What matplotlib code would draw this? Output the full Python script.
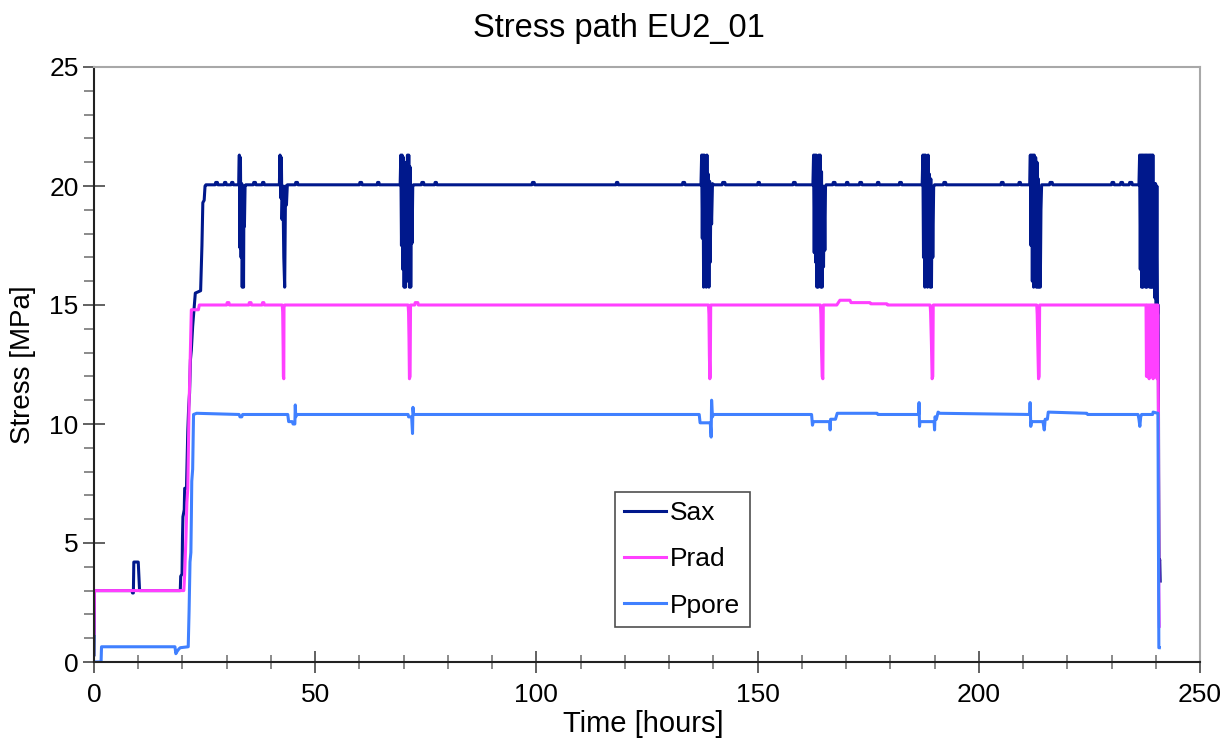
import matplotlib
matplotlib.use("Agg")
import matplotlib.pyplot as plt
from matplotlib.ticker import MultipleLocator

plt.rcParams['font.family'] = ['Liberation Sans', 'DejaVu Sans']

# Sax - axial stress [MPa]
sax_t = [0, 0.1, 8.6, 8.7, 8.9, 9.0, 10.0, 10.3, 19.5, 19.6, 19.9, 20.0, 20.1, 20.4,
         20.5, 20.9, 21.1, 21.2, 21.4, 21.6, 21.8, 22.0, 22.3, 22.7, 22.9, 24.1, 24.4,
         24.6, 24.9, 25.1, 25.3,
         27.4, 27.5, 27.9, 28.0, 29.4, 29.5, 29.8, 29.9, 31.0, 31.1, 31.4, 31.5,
         32.7, 32.85, 33.0, 33.1, 33.25, 33.4, 33.5, 33.65, 33.8, 33.9, 34.0, 34.15, 34.3,
         36.0, 36.1, 36.5, 36.6, 38.0, 38.1, 38.4, 38.5,
         41.9, 42.05, 42.2, 42.35, 42.5, 42.7, 42.9, 43.1, 43.3, 43.5, 43.7,
         45.5, 45.6, 46.0, 46.1, 60.0, 60.1, 60.5, 60.6, 64.0, 64.1, 64.4, 64.5,
         69.2, 69.35, 69.5, 69.65, 69.8, 69.95, 70.1, 70.25, 70.4, 70.55, 70.7, 70.85,
         71.0, 71.15, 71.3, 71.45, 71.6, 71.75, 71.9, 72.05, 72.2,
         74.0, 74.1, 74.5, 74.6, 77.0, 77.1, 77.4, 77.5, 99.0, 99.1, 99.5, 99.6,
         118.0, 118.1, 118.4, 118.5, 133.0, 133.1, 133.5, 133.6,
         137.2, 137.35, 137.5, 137.65, 137.8, 137.95, 138.1, 138.25, 138.4, 138.55,
         138.7, 138.85, 139.0, 139.15, 139.3, 139.45, 139.6, 139.8, 139.95,
         142.0, 142.1, 142.6, 142.7, 150.0, 150.1, 150.4, 150.5, 158.0, 158.1, 158.5, 158.6,
         162.5, 162.65, 162.8, 162.95, 163.1, 163.25, 163.4, 163.55, 163.7, 163.85,
         164.0, 164.15, 164.3, 164.45, 164.6, 164.75, 164.9, 165.05, 165.2, 165.35, 165.5,
         167.0, 167.1, 167.5, 167.6, 170.0, 170.1, 170.4, 170.5, 173.0, 173.1, 173.5, 173.6,
         177.0, 177.1, 177.4, 177.5, 182.0, 182.1, 182.5, 182.6,
         187.2, 187.35, 187.5, 187.65, 187.8, 187.95, 188.1, 188.25, 188.4, 188.55,
         188.7, 188.85, 189.0, 189.15, 189.3, 189.45, 189.6, 189.8, 190.0,
         192.0, 192.1, 192.5, 192.6, 205.0, 205.1, 205.5, 205.6, 209.0, 209.1, 209.4, 209.5,
         211.5, 211.65, 211.8, 211.95, 212.1, 212.25, 212.4, 212.55, 212.7, 212.85,
         213.0, 213.15, 213.3, 213.45, 213.6, 213.75, 213.9, 214.05, 214.2,
         216.0, 216.1, 216.6, 216.7, 230.0, 230.1, 230.5, 230.6, 232.0, 232.1, 232.5, 232.6,
         234.0, 234.1, 234.6, 234.7,
         236.2, 236.35, 236.5, 236.65, 236.8, 236.95, 237.1, 237.25, 237.4, 237.55,
         237.7, 237.85, 238.0, 238.15, 238.3, 238.45, 238.6, 238.75, 238.9, 239.05,
         239.2, 239.35, 239.5, 239.65, 239.8, 239.95, 240.1, 240.25, 240.4, 240.55,
         240.65, 240.75, 240.9, 241.0]
sax_v = [0.3, 3.0, 3.0, 2.9, 2.9, 4.2, 4.2, 3.0, 3.0, 3.6, 3.7, 5.2, 6.1, 6.4,
         7.3, 7.3, 8.9, 9.7, 10.7, 11.3, 12.7, 13.1, 14.1, 15.0, 15.5, 15.6, 17.5,
         19.3, 19.4, 20.0, 20.05,
         20.05, 20.15, 20.15, 20.05, 20.05, 20.15, 20.15, 20.05, 20.05, 20.15, 20.15, 20.05,
         20.05, 21.3, 17.4, 21.2, 17.0, 20.1, 15.75, 19.8, 15.75, 20.0, 18.3, 20.0, 20.05,
         20.05, 20.15, 20.15, 20.05, 20.05, 20.15, 20.15, 20.05,
         20.05, 21.3, 19.5, 21.2, 18.6, 20.0, 17.0, 15.75, 20.0, 19.2, 20.05,
         20.05, 20.15, 20.15, 20.05, 20.05, 20.15, 20.15, 20.05, 20.05, 20.15, 20.15, 20.05,
         20.05, 21.3, 17.5, 21.3, 16.5, 21.2, 15.75, 21.0, 15.75, 20.5, 16.8, 21.3,
         16.0, 21.3, 15.75, 20.8, 15.75, 19.5, 17.6, 20.0, 20.05,
         20.05, 20.15, 20.15, 20.05, 20.05, 20.15, 20.15, 20.05, 20.05, 20.15, 20.15, 20.05,
         20.05, 20.15, 20.15, 20.05, 20.05, 20.15, 20.15, 20.05,
         20.05, 21.3, 17.8, 21.3, 15.75, 21.3, 16.2, 21.2, 15.75, 21.3,
         15.9, 20.5, 15.75, 20.2, 16.8, 20.0, 18.4, 20.1, 20.05,
         20.05, 20.15, 20.15, 20.05, 20.05, 20.15, 20.15, 20.05, 20.05, 20.15, 20.15, 20.05,
         20.05, 21.3, 17.2, 21.3, 16.8, 21.3, 15.75, 21.0, 15.75, 21.3,
         16.0, 21.3, 15.75, 20.6, 15.75, 20.0, 16.6, 19.8, 17.3, 20.0, 20.05,
         20.05, 20.15, 20.15, 20.05, 20.05, 20.15, 20.15, 20.05, 20.05, 20.15, 20.15, 20.05,
         20.05, 20.15, 20.15, 20.05, 20.05, 20.15, 20.15, 20.05,
         20.05, 21.3, 17.0, 21.3, 15.75, 21.3, 16.3, 21.2, 15.75, 21.3,
         16.1, 20.5, 15.75, 20.3, 15.75, 19.9, 17.0, 20.0, 20.05,
         20.05, 20.15, 20.15, 20.05, 20.05, 20.15, 20.15, 20.05, 20.05, 20.15, 20.15, 20.05,
         20.05, 21.3, 17.5, 21.3, 16.0, 21.3, 15.75, 21.3, 16.5, 21.2,
         15.75, 21.0, 15.75, 20.3, 15.75, 19.5, 15.75, 19.0, 20.05,
         20.05, 20.15, 20.15, 20.05, 20.05, 20.15, 20.15, 20.05, 20.05, 20.15, 20.15, 20.05,
         20.05, 20.15, 20.15, 20.05,
         20.05, 21.3, 16.5, 21.3, 15.75, 21.3, 15.75, 21.3, 17.0, 21.3,
         15.75, 21.3, 15.75, 21.3, 16.2, 21.3, 15.75, 21.3, 15.75, 21.3,
         15.75, 21.3, 15.75, 20.1, 15.3, 20.1, 15.0, 20.0, 14.6, 15.0,
         8.0, 4.2, 4.3, 3.4]

# Prad - radial pressure [MPa]
prad_t = [0, 0.1, 20.3, 20.5, 20.8, 21.0, 21.2, 21.5, 21.6, 22.0, 22.3, 23.6, 23.8,
          30.0, 30.1, 30.5, 30.6, 35.0, 35.1, 35.5, 35.6, 38.0, 38.1, 38.4, 38.5,
          42.55, 42.65, 42.75, 42.8, 42.9, 42.95, 43.1,
          71.0, 71.1, 71.2, 71.3, 71.45, 71.55,
          72.5, 72.6, 73.2, 73.3,
          138.9, 139.0, 139.1, 139.2, 139.3, 139.4,
          164.2, 164.3, 164.45, 164.6, 164.75, 164.85,
          167.9, 168.6, 170.9, 171.1, 175.4, 175.6, 179.2, 179.4,
          189.0, 189.1, 189.3, 189.45, 189.6, 189.7,
          213.1, 213.2, 213.35, 213.5, 213.65, 213.75,
          237.8, 237.9, 238.05, 238.2, 238.35, 238.5, 238.65, 238.8, 238.95, 239.1,
          239.25, 239.4, 239.55, 239.7, 239.85, 240.0, 240.15, 240.3, 240.45, 240.6,
          240.7, 240.8]
prad_v = [1.2, 3.0, 3.0, 3.7, 5.3, 6.7, 7.3, 10.9, 11.6, 14.8, 14.8, 14.8, 15.0,
          15.0, 15.1, 15.1, 15.0, 15.0, 15.1, 15.1, 15.0, 15.0, 15.1, 15.1, 15.0,
          15.0, 14.7, 13.2, 12.0, 11.9, 14.9, 15.0,
          15.0, 14.7, 13.6, 11.9, 12.0, 15.0,
          15.0, 15.1, 15.1, 15.0,
          15.0, 14.6, 12.9, 11.9, 12.0, 15.0,
          15.0, 14.6, 13.1, 12.0, 11.9, 15.0,
          15.0, 15.2, 15.2, 15.1, 15.1, 15.05, 15.05, 15.0,
          15.0, 14.7, 13.3, 11.9, 12.0, 15.0,
          15.0, 14.6, 13.2, 11.9, 12.0, 15.0,
          15.0, 12.0, 15.0, 12.0, 15.0, 11.9, 15.0, 12.0, 15.0, 12.0,
          15.0, 11.9, 15.0, 12.0, 15.0, 12.0, 15.0, 11.9, 15.0, 10.4,
          3.0, 1.5]

# Ppore - pore pressure [MPa]
ppore_t = [0, 1.6, 1.7, 18.3, 18.5, 18.8, 19.2, 19.5, 21.3, 21.5, 21.7, 21.9, 22.0,
           22.1, 22.3, 22.5, 23.2,
           32.8, 33.0, 33.4, 33.6,
           43.8, 44.0, 44.8, 45.0, 45.4, 45.5, 45.6, 45.8,
           71.0, 71.1, 71.8, 72.0, 72.1, 72.25,
           136.8, 137.0, 139.3, 139.5, 139.6, 139.8, 140.0,
           162.2, 162.4, 162.6, 166.3, 166.4, 166.5, 167.6, 168.0, 177.0, 177.2,
           186.4, 186.5, 186.6, 186.7, 189.9, 190.0, 190.1, 190.4, 190.8, 191.2,
           211.5, 211.6, 211.75, 211.9, 214.5, 214.8, 215.0, 215.5, 215.7, 224.4, 224.6,
           236.0, 236.2, 236.4, 236.6, 236.8, 239.3, 239.4, 240.5, 240.7, 240.8]
ppore_v = [0.0, 0.0, 0.64, 0.64, 0.35, 0.45, 0.55, 0.6, 0.64, 2.2, 4.2, 4.6, 6.0,
           7.6, 8.1, 10.4, 10.45,
           10.4, 10.3, 10.3, 10.4,
           10.4, 10.1, 10.1, 10.0, 10.0, 10.8, 10.3, 10.4,
           10.4, 10.3, 10.3, 9.6, 10.7, 10.4,
           10.4, 10.05, 10.05, 9.45, 11.0, 10.3, 10.4,
           10.4, 9.95, 10.1, 10.1, 9.75, 10.2, 10.2, 10.45, 10.45, 10.4,
           10.4, 10.9, 9.9, 10.1, 10.1, 9.75, 10.3, 10.2, 10.5, 10.45,
           10.4, 10.9, 9.9, 10.1, 10.1, 9.75, 10.2, 10.2, 10.5, 10.45, 10.4,
           10.4, 10.2, 9.9, 10.3, 10.4, 10.4, 10.5, 10.45, 0.6, 0.6]

fig = plt.figure(figsize=(12.3, 7.4), dpi=100)
ax = fig.add_axes([94 / 1230, 1 - 662 / 740, 1106 / 1230, 595 / 740])

ax.plot(sax_t, sax_v, color='#00188c', lw=2.2, label='Sax')
ax.plot(prad_t, prad_v, color='#ff40ff', lw=2.2, label='Prad')
ax.plot(ppore_t, ppore_v, color='#4080ff', lw=2.2, label='Ppore')

ax.set_xlim(0, 250)
ax.set_ylim(0, 25)
ax.xaxis.set_major_locator(MultipleLocator(50))
ax.xaxis.set_minor_locator(MultipleLocator(10))
ax.yaxis.set_major_locator(MultipleLocator(5))
ax.yaxis.set_minor_locator(MultipleLocator(1))

ax.tick_params(axis='both', which='major', direction='inout', length=16, width=1.3,
               color='#555555', labelsize=19)
ax.tick_params(axis='x', which='major', pad=7)
ax.tick_params(axis='y', which='major', pad=3)
ax.tick_params(axis='x', which='minor', direction='inout', length=10, width=1.2, color='#777777')
ax.tick_params(axis='y', which='minor', direction='out', length=7, width=1.2, color='#777777')

for s in ['top', 'right']:
    ax.spines[s].set_color('#a8a8a8')
    ax.spines[s].set_linewidth(1.5)
for s in ['bottom', 'left']:
    ax.spines[s].set_color('#222222')
    ax.spines[s].set_linewidth(1.5)

ax.set_xlabel('Time [hours]', fontsize=21)
ax.set_ylabel('Stress [MPa]', fontsize=20)
ax.xaxis.set_label_coords(0.497, -0.08)
ax.yaxis.set_label_coords(-0.052, 0.5)

fig.text(0.503, 0.962, 'Stress path EU2_01', fontsize=23.5, ha='center', va='center')

leg = ax.legend(loc='lower left', bbox_to_anchor=(0.471, 0.059), fontsize=19,
                frameon=True, fancybox=False, handlelength=1.6, handletextpad=0.15,
                borderpad=0.35, labelspacing=0.85, borderaxespad=0)
leg.get_frame().set_edgecolor('#222222')
leg.get_frame().set_linewidth(1.2)

fig.savefig('out.png', dpi=100)
